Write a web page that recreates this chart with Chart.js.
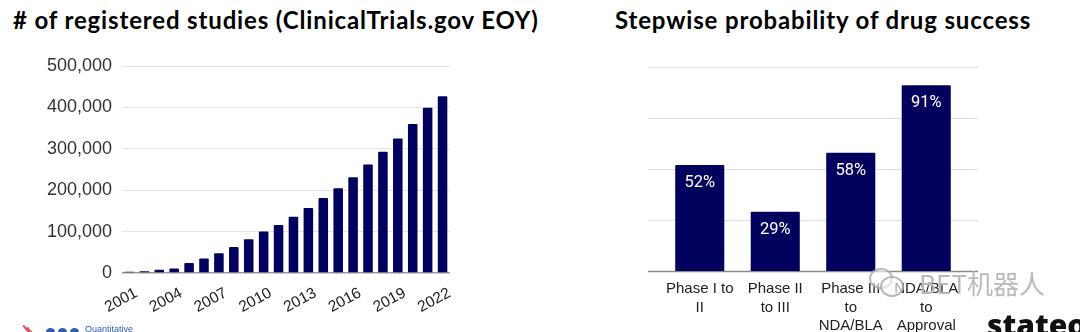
<!DOCTYPE html>
<html><head><meta charset="utf-8">
<script src="https://cdn.jsdelivr.net/npm/chart.js@4.4.1/dist/chart.umd.min.js"></script>
<style>
html,body{margin:0;padding:0;background:#fff;width:1080px;height:332px;overflow:hidden;}
body{position:relative;}
.title{position:absolute;font-family:Lato,sans-serif;font-weight:700;font-size:24px;letter-spacing:0.85px;color:#000;white-space:nowrap;line-height:24px;}
canvas{position:absolute;top:0;}
.wm{position:absolute;left:919px;top:268px;font-family:"Noto Sans CJK SC",sans-serif;font-size:26px;line-height:30px;color:rgba(130,130,130,0.55);white-space:nowrap;text-shadow:0 0 1px #fff;}
.bub{position:absolute;border:2px solid rgba(140,140,140,0.6);border-radius:50%;background:rgba(255,255,255,0.6);}
.brand{position:absolute;left:987px;top:310px;font-family:"Open Sans",sans-serif;font-weight:800;font-size:30px;line-height:30px;color:#111;white-space:nowrap;}
.logo{position:absolute;left:85px;top:324px;font-family:"Liberation Sans",sans-serif;font-size:9px;line-height:10px;color:#2a5cb0;white-space:nowrap;}
.slash{position:absolute;width:2px;height:12px;background:#e0505a;transform:rotate(-40deg);}
.dot{position:absolute;width:9px;height:9px;border-radius:50%;background:#2a5cb0;}
</style></head><body>
<div class="title" style="left:13px;top:8px"># of registered studies (ClinicalTrials.gov EOY)</div>
<div class="title" style="left:615px;top:8px">Stepwise probability of drug success</div>
<canvas id="c1" width="470" height="332" style="left:0"></canvas>
<canvas id="c2" width="480" height="332" style="left:600px"></canvas>
<div class="bub" style="left:869px;top:268px;width:20px;height:17px"></div>
<div class="bub" style="left:880px;top:276px;width:20px;height:17px"></div>
<div class="wm">BET机器人</div>
<div class="brand">stateof</div>
<div class="slash" style="left:26px;top:324px"></div>
<div class="slash" style="left:30px;top:326px"></div>
<div class="dot" style="left:46px;top:328px"></div>
<div class="dot" style="left:58px;top:328px"></div>
<div class="dot" style="left:70px;top:328px"></div>
<div class="logo">Quantitative</div>
<script>
// ---- data ----
const years = ['2001','2002','2003','2004','2005','2006','2007','2008','2009','2010','2011','2012','2013','2014','2015','2016','2017','2018','2019','2020','2021','2022'];
const studies = [3000,4500,8000,11000,24000,35000,48000,63000,81500,100000,116000,136000,157000,181000,205000,231000,262000,293000,325000,360000,399000,427000];
const shownYears = ['2001','2004','2007','2010','2013','2016','2019','2022'];

const phaseLabels = [['Phase I to','II'],['Phase II','to III'],['Phase III','to','NDA/BLA'],['NDA/BLA','to','Approval']];
const successPct = [52,29,58,91];
const pctTicks = [0,25,50,75,100];

const NAVY = '#02025e';

// ---- left chart ----
new Chart(document.getElementById('c1'), {
  type: 'bar',
  data: { labels: years, datasets: [{ data: studies, backgroundColor: NAVY, categoryPercentage: 1, barPercentage: 0.64, borderRadius: 1 }] },
  options: {
    responsive: false, animation: false, devicePixelRatio: 1,
    plugins: { legend: { display: false }, tooltip: { enabled: false } },
    layout: { padding: { top: 66, left: 0, right: 20, bottom: 0 } },
    scales: {
      x: {
        grid: { display: false }, border: { display: false },
        ticks: {
          autoSkip: false, minRotation: 28, maxRotation: 28, labelOffset: 7, padding: 3,
          font: { family: 'Liberation Sans', size: 15.5 }, color: '#222',
          callback: (v, i) => shownYears.includes(years[i]) ? years[i] : ''
        },
        afterFit: s => { s.height = 59; }
      },
      y: {
        min: 0, max: 500000,
        ticks: { stepSize: 100000, padding: 10, font: { family: 'Liberation Sans', size: 18 }, color: '#333',
          callback: v => Number(v).toLocaleString('en-US') },
        grid: { drawTicks: false, color: c => c.tick.value === 0 ? '#9a9a9a' : '#e2e2e2', lineWidth: c => c.tick.value === 0 ? 1.5 : 1 },
        border: { display: false },
        afterFit: s => { s.width = 122; }
      }
    }
  }
});

// ---- right chart ----
const GRID_EXT = 14;
const gridPlugin = {
  id: 'wideGrid',
  beforeDatasetsDraw(chart) {
    const { ctx, chartArea, scales } = chart;
    const y = scales.y;
    ctx.save();
    pctTicks.forEach(v => {
      const py = Math.round(y.getPixelForValue(v)) + 0.5;
      ctx.beginPath();
      ctx.strokeStyle = v === 0 ? '#8a8a8a' : '#dedede';
      ctx.lineWidth = v === 0 ? 1.5 : 1;
      ctx.moveTo(chartArea.left - GRID_EXT, py);
      ctx.lineTo(chartArea.right + GRID_EXT, py);
      ctx.stroke();
    });
    ctx.restore();
  }
};
const valuePlugin = {
  id: 'values',
  afterDatasetsDraw(chart) {
    const { ctx } = chart;
    const meta = chart.getDatasetMeta(0);
    ctx.save();
    ctx.fillStyle = '#ffffff';
    ctx.font = '16.5px Roboto';
    ctx.textAlign = 'center';
    ctx.textBaseline = 'middle';
    meta.data.forEach((bar, i) => {
      ctx.fillText(successPct[i] + '%', bar.x, bar.y + 18);
    });
    ctx.restore();
  }
};
new Chart(document.getElementById('c2'), {
  type: 'bar',
  data: { labels: phaseLabels, datasets: [{ data: successPct, backgroundColor: NAVY, categoryPercentage: 1, barPercentage: 0.65, borderRadius: 1 }] },
  options: {
    responsive: false, animation: false, devicePixelRatio: 1,
    plugins: { legend: { display: false }, tooltip: { enabled: false } },
    layout: { padding: { top: 67, left: 62, right: 116, bottom: 0 } },
    scales: {
      x: {
        grid: { display: false }, border: { display: false },
        ticks: { autoSkip: false, maxRotation: 0, minRotation: 0, padding: 1,
          font: { family: 'Liberation Sans', size: 15, lineHeight: 1.22 }, color: '#222' },
        afterFit: s => { s.height = 61; }
      },
      y: { display: false, min: 0, max: 100, ticks: { stepSize: 25 } }
    }
  },
  plugins: [gridPlugin, valuePlugin]
});
</script>
</body></html>
